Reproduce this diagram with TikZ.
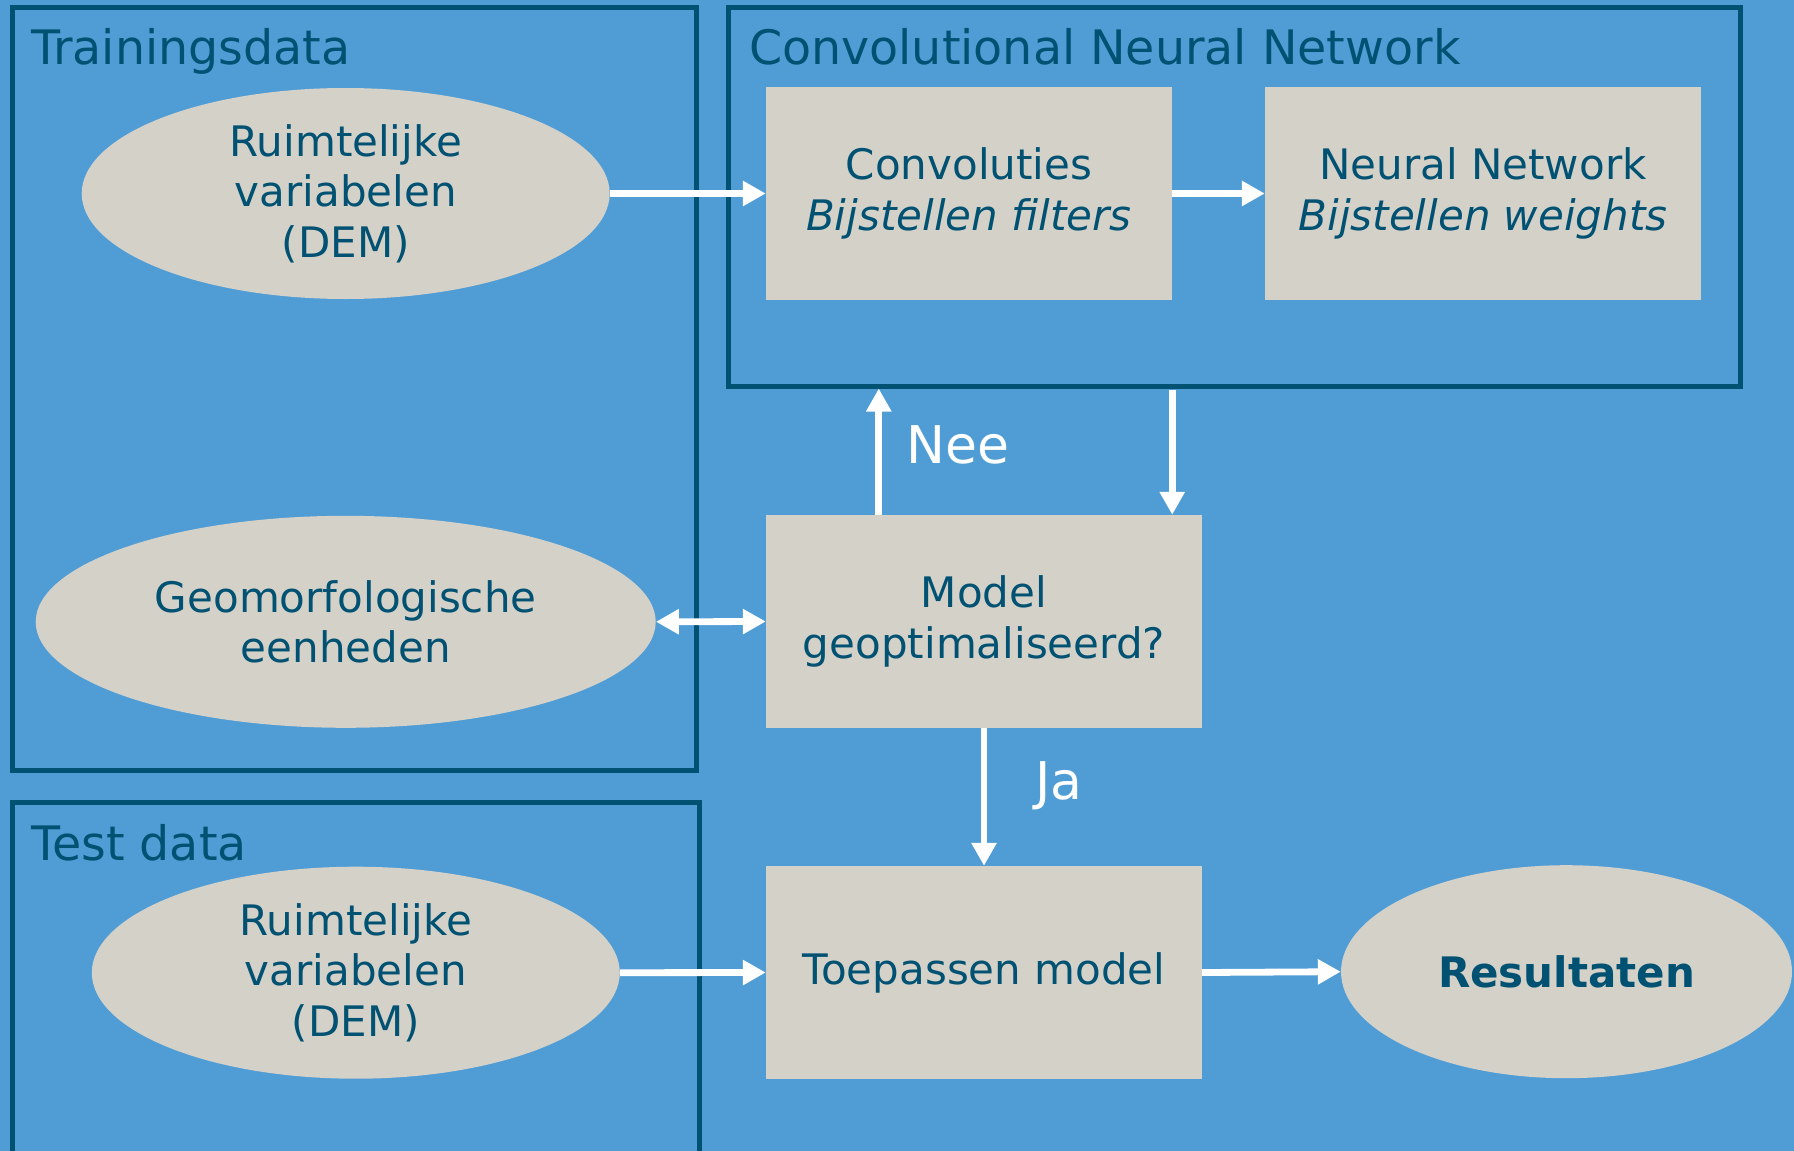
\documentclass[tikz,border=0pt]{standalone}
\usepackage{fontspec}
\setmainfont{DejaVu Sans}
\usetikzlibrary{shapes.geometric,arrows.meta,calc}
\definecolor{bg}{RGB}{80,157,214}
\definecolor{dark}{RGB}{0,81,114}
\definecolor{nodefill}{RGB}{212,209,201}
\newcommand\dgbody{\fontsize{42}{50.5}\selectfont}
\newcommand\dgtitle{\fontsize{47.5}{56}\selectfont}
\newcommand\dglbl{\fontsize{52}{60}\selectfont}
\begin{document}
\begin{tikzpicture}[x=1pt,y=-1pt,
  frame/.style={draw=dark, line width=5pt, rectangle, inner sep=0pt},
  box/.style={rectangle, fill=nodefill, inner sep=0pt, text=dark, align=center, font=\dgbody},
  oval/.style={ellipse, fill=nodefill, inner sep=0pt, text=dark, align=center, font=\dgbody},
  title/.style={anchor=base west, text=dark, inner sep=0pt, font=\dgtitle},
  lbl/.style={anchor=base west, text=white, inner sep=0pt, font=\dglbl},
  arr/.style={draw=white, line width=6.8pt, -{Triangle[length=23pt,width=24pt]}},
  darr/.style={draw=white, line width=6.8pt, {Triangle[length=23pt,width=24pt]}-{Triangle[length=23pt,width=24pt]}}]
\useasboundingbox (0,0) rectangle (1794,1151);
\clip (0,0) rectangle (1794,1151);
\fill[bg] (0,0) rectangle (1794,1151);

% frames
\node[frame, minimum width=684pt, minimum height=763pt] (train) at (354,388.5) {};
\node[frame, minimum width=687pt, minimum height=363pt] (test) at (355.5,983.5) {};
\node[frame, minimum width=1012pt, minimum height=379pt] (cnn) at (1234,196.5) {};

% titles
\node[title] (t1) at (31,64) {Trainingsdata};
\node[title] (t2) at (749,64) {Convolutional Neural Network};
\node[title] (t3) at (31,860) {Test data};

% nodes
\node[oval, minimum width=528pt, minimum height=211pt] (e1) at (345.7,193.5) {Ruimtelijke\\variabelen\\(DEM)};
\node[box, minimum width=406pt, minimum height=213pt] (conv) at (969,193.5) {Convoluties\\\textit{Bijstellen filters}};
\node[box, minimum width=436pt, minimum height=213pt] (nn) at (1483,193.5) {Neural Network\\\textit{Bijstellen weights}};
\node[oval, minimum width=620pt, minimum height=212pt] (e2) at (345.7,621.8) {Geomorfologische\\eenheden};
\node[box, minimum width=436pt, minimum height=213pt] (model) at (984,621.5) {Model\\geoptimaliseerd?};
\node[oval, minimum width=528pt, minimum height=212pt] (e3) at (355.8,972.7) {Ruimtelijke\\variabelen\\(DEM)};
\node[box, minimum width=436pt, minimum height=213pt] (toep) at (984,972.5) {\raisebox{2pt}{Toepassen model}};
\node[oval, minimum width=451pt, minimum height=213pt] (res) at (1566.5,971.7) {\textbf{Resultaten}};

% connectors
\draw[arr] (e1.east) -- (conv.west);
\draw[arr] (conv.east) -- (nn.west);
\draw[arr, shorten <=1pt] (conv.east |- cnn.south) -- (conv.east |- model.north);
\coordinate (neeb) at ($(model.north west)+(113,0)$);
\draw[arr] (neeb) -- (neeb |- cnn.south);
\draw[darr] (e2.east) -- (model.west);
\draw[arr] (model.south) -- (toep.north);
\draw[arr] (e3.east) -- (toep.west);
\draw[arr] (toep.east) -- (res.west);

% labels
\node[lbl] (nee) at (906,463) {Nee};
\node[lbl] (ja) at (1035,799) {Ja};
\end{tikzpicture}
\end{document}
